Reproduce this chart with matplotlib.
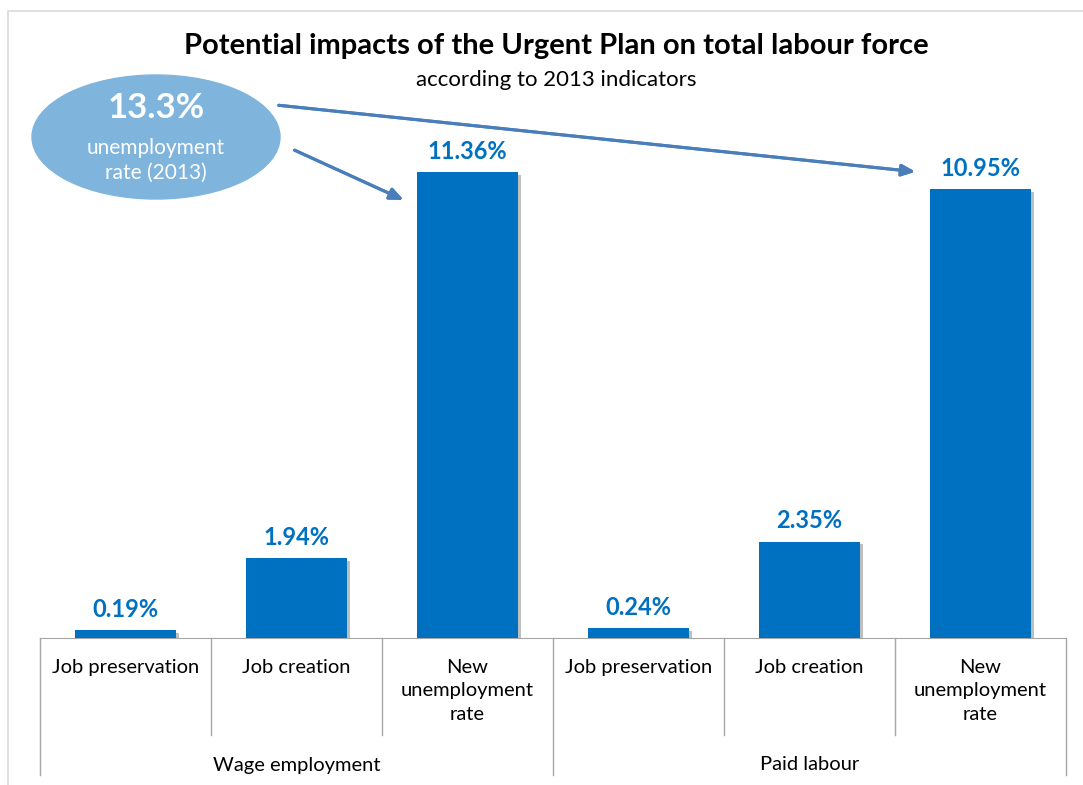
import matplotlib
matplotlib.use('Agg')
import matplotlib.pyplot as plt
import matplotlib.patheffects as pe
from matplotlib.patches import Ellipse, Rectangle
from matplotlib.transforms import blended_transform_factory

plt.rcParams['font.family'] = ['Lato', 'DejaVu Sans']

categories = ['Job preservation', 'Job creation', 'New\nunemployment\nrate',
              'Job preservation', 'Job creation', 'New\nunemployment\nrate']
groups = ['Wage employment', 'Paid labour']
values = [0.19, 1.94, 11.36, 0.24, 2.35, 10.95]
rate_2013 = 13.3

W, H = 1083, 785
BLUE = '#0070C0'
GRID = '#A6A6A6'


def fx(px):
    return px / W


def fy(py):
    return 1 - py / H


fig = plt.figure(figsize=(W / 100, H / 100), dpi=100)

# light frame around the chart area
fig.patches.append(Rectangle((fx(8), fy(790)), fx(1090) - fx(8), fy(11) - fy(790),
                             transform=fig.transFigure, fill=False,
                             edgecolor='#D9D9D9', lw=1.2))

ax = fig.add_axes([fx(40), fy(638), fx(1066) - fx(40), fy(130) - fy(638)])
x = list(range(len(values)))
bars = ax.bar(x, values, width=0.59, color=BLUE, zorder=3)
for b in bars:
    b.set_path_effects([pe.SimplePatchShadow(offset=(2, -2), shadow_rgbFace='#808080', alpha=0.5),
                        pe.Normal()])

ax.set_xlim(-0.5, len(values) - 0.5)
ax.set_ylim(0, 12.39)
for s in ['top', 'right', 'left']:
    ax.spines[s].set_visible(False)
ax.spines['bottom'].set_color(GRID)
ax.set_xticks([])
ax.set_yticks([])

# value labels
for xi, v in zip(x, values):
    ax.annotate(f'{v:.2f}%', (xi, v), xytext=(0, 15), textcoords='offset points',
                ha='center', va='center', color=BLUE, fontsize=17, fontweight='bold')

# category / group axis below the bars
tr = blended_transform_factory(ax.transData, ax.transAxes)
px_ax = 1 / 508
for b in [0.5, 1.5, 3.5, 4.5]:
    ax.plot([b, b], [0, -97 * px_ax], color=GRID, lw=1, transform=tr, clip_on=False)
for b in [-0.5, 2.5, 5.5]:
    ax.plot([b, b], [0, -137 * px_ax], color=GRID, lw=1, transform=tr, clip_on=False)
for xi, c in zip(x, categories):
    ax.text(xi, -21 * px_ax, c, transform=tr, ha='center', va='top',
            fontsize=14.5, linespacing=1.45)
for gi, g in enumerate(groups):
    ax.text(gi * 3 + 1, -127 * px_ax, g, transform=tr, ha='center', va='center', fontsize=14.5)

# titles
fig.text(fx(556), fy(46), 'Potential impacts of the Urgent Plan on total labour force',
         ha='center', va='center', fontsize=21, fontweight='bold')
fig.text(fx(556), fy(80), 'according to 2013 indicators',
         ha='center', va='center', fontsize=16)

# 2013 unemployment rate bubble
fig.patches.append(Ellipse((fx(156), fy(137)), fx(248), 124 / H,
                           transform=fig.transFigure, color='#7FB5DD', zorder=1))
fig.text(fx(156), fy(108), f'{rate_2013}%', ha='center', va='center',
         color='white', fontsize=25, fontweight='bold')
fig.text(fx(156), fy(160), 'unemployment\nrate (2013)', ha='center', va='center',
         color='white', fontsize=15, linespacing=1.3)

arrow = dict(arrowstyle='-|>,head_length=0.8,head_width=0.35', color='#4A7EBB', lw=2.2)
fig.add_artist(plt.annotate('', xy=(fx(406), fy(201)), xytext=(fx(292), fy(149)),
                            xycoords='figure fraction', arrowprops=arrow))
fig.add_artist(plt.annotate('', xy=(fx(918), fy(172)), xytext=(fx(276), fy(105)),
                            xycoords='figure fraction', arrowprops=arrow))

fig.savefig('out.png', dpi=100)
